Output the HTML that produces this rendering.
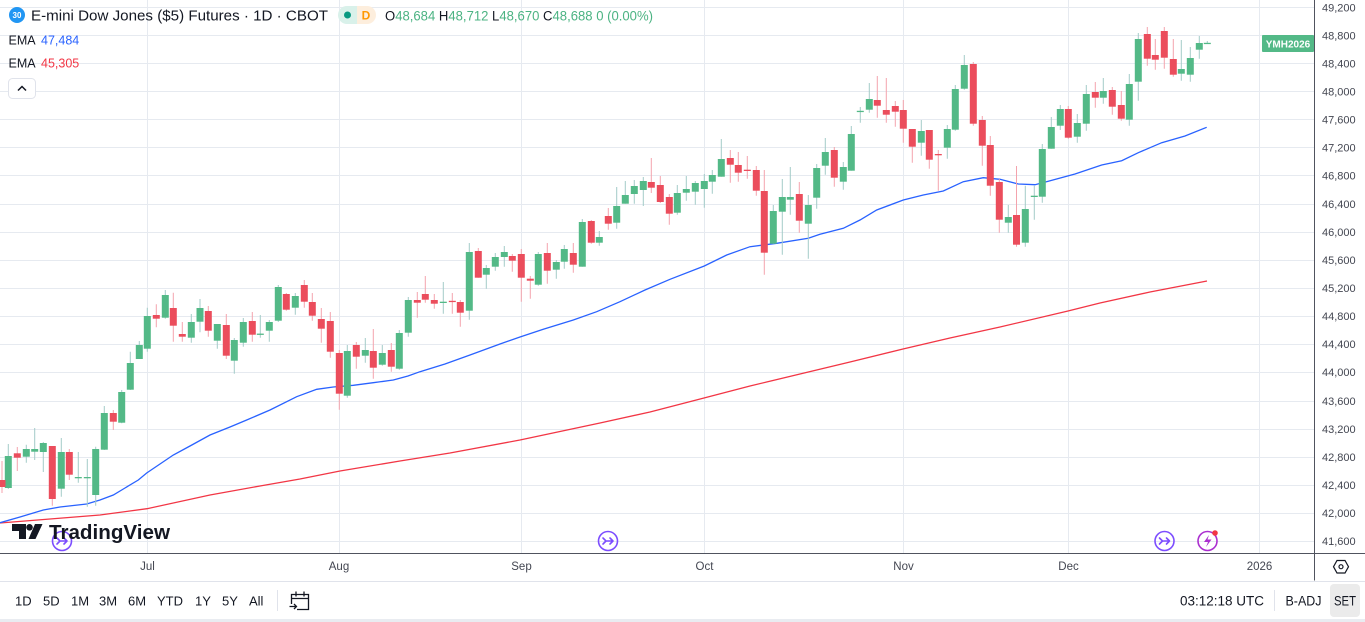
<!DOCTYPE html>
<html>
<head>
<meta charset="utf-8">
<style>
html,body{margin:0;padding:0;background:#fff;}
body{width:1365px;height:622px;overflow:hidden;}
svg{display:block;}
svg text{font-family:"Liberation Sans",sans-serif;}
</style>
</head>
<body>
<svg width="1365" height="622" viewBox="0 0 1365 622" xmlns="http://www.w3.org/2000/svg">
<rect x="0" y="0" width="1365" height="622" fill="#ffffff"/>

<!-- horizontal grid -->
<g stroke="#e6eaf0" stroke-width="1">
<path d="M0 7.5H1314M0 35.5H1314M0 63.5H1314M0 91.5H1314M0 119.5H1314M0 147.5H1314M0 175.5H1314M0 204.5H1314M0 232.5H1314M0 260.5H1314M0 288.5H1314M0 316.5H1314M0 344.5H1314M0 372.5H1314M0 401.5H1314M0 429.5H1314M0 457.5H1314M0 485.5H1314M0 513.5H1314M0 541.5H1314"/>
<path d="M147.5 0V553M339.5 0V553M521.5 0V553M704.5 0V553M903.5 0V553M1068.5 0V553M1259.5 0V553"/>
</g>

<!-- EMA lines -->
<polyline fill="none" stroke="#f23645" stroke-width="1.3" points="0,523 50,519 100,515 147,508.7 210,495 260,486 300,479 340,471 400,461 450,453 520,440 600,423 650,412 704,398 750,386 800,374 850,362 903,349 950,338 1000,327 1068,311 1100,303 1150,292 1207,281"/>
<polyline fill="none" stroke="#2962ff" stroke-width="1.3" points="0,522.7 20,517 43.3,510 60,507 86.7,504 100,500 113.3,495 125,488 138.3,480 146.7,473 160,464 173.3,455 190,446 210,435 230,427 246.7,420 270,410 296.7,396.7 316.7,389.3 333.3,387 353.3,385.3 373.3,382.7 393.3,380 408,376 420,371.7 445,364 470,355 500,344 520,337 543.3,329.3 573.3,320 596.7,311.7 620,301.7 645,290 670,279.3 704.3,266 726.7,255 750,246.7 776.7,243.3 808.3,238.3 820,234.3 843.3,228.3 860,220 876.7,210 903.3,200 923.3,195 943.3,191 963.3,181.7 983.3,177.7 1000,179.3 1018.3,184 1035,184.7 1048.3,181.3 1075,174 1101.7,165 1121.7,160.7 1138.3,152.7 1161.7,142.7 1185,136 1206.7,127.3"/>

<!-- wicks -->
<path fill="none" stroke="#a3cbc8" stroke-width="1" d="M8.3 444V489M26.3 444.7V462.7M34.7 428V460M43.3 442V472M61.3 438V496.7M78.3 452V482.7M87.3 459V506.7M95.7 446.7V505.7M104.3 406V450M121.7 390V423.3M130.3 351.7V390M139.3 341V359M147.3 307.7V351.7M165.3 290V318.7M191.3 314V342.7M200 299V332.3M217.3 324V348.7M234.3 338V373.7M243.3 318V346.7M260.3 315V337.7M269.3 320V341.7M278.3 285V322M295.3 293V314.7M347.3 345V397.7M365.3 338V362.7M382.3 345V365.7M399.3 330V369.7M408.3 297V336.7M443.3 282V313.7M469.3 243V319.7M486.3 265V288.7M495.3 253V270.7M504.3 246V266.7M538.3 252V285.7M556.3 260V278.7M564.3 245V268.7M582.3 219V266.7M599.3 231V245.7M616.7 187V228.7M625.3 181V203.7M634.3 180V203.7M643.3 177V206M677.3 185V214.7M686.3 176V200.7M695.3 181V204.7M704.3 174V207.7M712.3 170V193.7M721.3 139V176.7M773.3 205V243.7M782.3 179V254.7M790.3 167V214.7M808.3 195V258.7M816.7 164V208.7M825.3 138V174.7M843.3 162V189.7M851.3 126V170.7M860.3 107V122.7M869.3 83V112.7M921.3 120V155.7M947.3 125V158.7M955.3 85V130.7M964.3 55V89.7M1008.3 205V232.7M1025.3 185.7V246.7M1034.3 185.7V219.7M1042.3 144V202.7M1051.3 117V148.7M1060.3 105V130M1077.3 114V142.7M1086.3 85V130.7M1103.3 78V103.7M1129.3 74V125.7M1138.3 33V100.7M1181.3 40V80.7M1190.3 47V81.7M1199.3 36V58.7M1207.3 41V44"/>
<path fill="none" stroke="#f4a3ad" stroke-width="1" d="M2 461V493M17.3 447V471M52.3 446V505.7M69.3 449V480M113.3 410V430M156.3 304.3V327.3M173.3 292.7V341.7M182.3 322V341.7M208.3 306V336.7M226.3 314V359M252.3 312V341.7M286.3 293V310.7M304.3 280V307.7M312.3 293V320.7M321.3 308V342.7M330.3 312V357.7M339.3 350V409.7M356.3 342V368.7M373.3 329V378.7M391.3 343V371.7M417.3 292V317.7M425.3 276V302.7M434.3 294V308.7M452.3 293V313.7M460.3 300V326.7M478.3 248V277.7M512.3 254V271.7M521.3 249V301.7M530.3 276V298.7M547.3 243V283.7M573.3 243V272.7M591.3 220V243.7M608.3 208V229.7M651.3 158V193M660.3 176V203M669.3 194V224.7M730.3 150V182.7M738.3 152V181.7M747.3 156V178.7M756.3 166V195.7M764.3 170V274.7M799.3 182V232.7M834.3 147V186.7M877.3 76V117.7M886.3 78V122.7M895.3 101V126.7M903.3 100V142.7M912.3 129V162.7M929.3 130V168.7M938.3 150V190.7M973.3 62V125.7M982.3 116V165.7M990.3 136V195.7M999.3 179V232.7M1016.5 166V246.7M1068.3 106V138.7M1095.3 82V107.7M1112.3 87V114.7M1121.3 91V120.7M1147.3 27V65.7M1155.3 39V69.7M1164.3 27V68.7M1173.3 39V76.7"/>

<!-- green bodies -->
<g fill="#53b987">
<rect x="4.8" y="456" width="7" height="32"/>
<rect x="22.8" y="449" width="7" height="7.7"/>
<rect x="31.2" y="449" width="7" height="2.7"/>
<rect x="39.8" y="443" width="7" height="9"/>
<rect x="57.8" y="452" width="7" height="36.7"/>
<rect x="74.8" y="477" width="7" height="1.3"/>
<rect x="83.8" y="477" width="7" height="1.3"/>
<rect x="92.2" y="449" width="7" height="46"/>
<rect x="100.8" y="413" width="7" height="36.7"/>
<rect x="118.2" y="392" width="7" height="30.7"/>
<rect x="126.8" y="363" width="7" height="26.7"/>
<rect x="135.8" y="345" width="7" height="14"/>
<rect x="143.8" y="316" width="7" height="32.7"/>
<rect x="161.8" y="295" width="7" height="22.7"/>
<rect x="187.8" y="322" width="7" height="15.7"/>
<rect x="196.5" y="308" width="7" height="13.7"/>
<rect x="213.8" y="324" width="7" height="16.7"/>
<rect x="230.8" y="340" width="7" height="20.7"/>
<rect x="239.8" y="322" width="7" height="20.7"/>
<rect x="256.8" y="333.6" width="7" height="1.3"/>
<rect x="265.8" y="322" width="7" height="8.7"/>
<rect x="274.8" y="287" width="7" height="33.7"/>
<rect x="291.8" y="296" width="7" height="11.7"/>
<rect x="343.8" y="351" width="7" height="44.7"/>
<rect x="361.8" y="350" width="7" height="5.7"/>
<rect x="378.8" y="353" width="7" height="11.7"/>
<rect x="395.8" y="333" width="7" height="35.7"/>
<rect x="404.8" y="300" width="7" height="32.7"/>
<rect x="439.8" y="301.7" width="7" height="1.3"/>
<rect x="465.8" y="252" width="7" height="58.7"/>
<rect x="482.8" y="268" width="7" height="6.7"/>
<rect x="491.8" y="257" width="7" height="9.7"/>
<rect x="500.8" y="252" width="7" height="5"/>
<rect x="534.8" y="254" width="7" height="30.7"/>
<rect x="552.8" y="262" width="7" height="7.7"/>
<rect x="560.8" y="249" width="7" height="12.7"/>
<rect x="578.8" y="222" width="7" height="44.7"/>
<rect x="595.8" y="237" width="7" height="5.7"/>
<rect x="613.2" y="206" width="7" height="16.7"/>
<rect x="621.8" y="195" width="7" height="8.7"/>
<rect x="630.8" y="186" width="7" height="8"/>
<rect x="639.8" y="181" width="7" height="9"/>
<rect x="673.8" y="193" width="7" height="19.7"/>
<rect x="682.8" y="189" width="7" height="3.7"/>
<rect x="691.8" y="183" width="7" height="8.7"/>
<rect x="700.8" y="181" width="7" height="8"/>
<rect x="708.8" y="175" width="7" height="6.7"/>
<rect x="717.8" y="159" width="7" height="17.7"/>
<rect x="769.8" y="211" width="7" height="32.7"/>
<rect x="778.8" y="197" width="7" height="14.7"/>
<rect x="786.8" y="197" width="7" height="2.7"/>
<rect x="804.8" y="205" width="7" height="18.7"/>
<rect x="813.2" y="168" width="7" height="29.7"/>
<rect x="821.8" y="152" width="7" height="13.7"/>
<rect x="839.8" y="167" width="7" height="14.7"/>
<rect x="847.8" y="134" width="7" height="36.7"/>
<rect x="856.8" y="110.8" width="7" height="1.3"/>
<rect x="865.8" y="99" width="7" height="10.7"/>
<rect x="917.8" y="131" width="7" height="11.7"/>
<rect x="943.8" y="129" width="7" height="18.7"/>
<rect x="951.8" y="89" width="7" height="40.7"/>
<rect x="960.8" y="65" width="7" height="23.7"/>
<rect x="1004.8" y="217" width="7" height="5.7"/>
<rect x="1021.8" y="209" width="7" height="33.7"/>
<rect x="1030.8" y="195.7" width="7" height="1.3"/>
<rect x="1038.8" y="149" width="7" height="47.7"/>
<rect x="1047.8" y="127" width="7" height="21.7"/>
<rect x="1056.8" y="109" width="7" height="16.7"/>
<rect x="1073.8" y="123" width="7" height="13.7"/>
<rect x="1082.8" y="94" width="7" height="29.7"/>
<rect x="1099.8" y="91" width="7" height="6.7"/>
<rect x="1125.8" y="84" width="7" height="35.7"/>
<rect x="1134.8" y="39" width="7" height="42.7"/>
<rect x="1177.8" y="69" width="7" height="4.7"/>
<rect x="1186.8" y="58" width="7" height="16.7"/>
<rect x="1195.8" y="43" width="7" height="6.7"/>
<rect x="1203.8" y="42.8" width="7" height="1.3"/>
</g>

<!-- red bodies -->
<g fill="#eb4d5c">
<rect x="-1.5" y="480" width="7" height="7"/>
<rect x="13.8" y="453.3" width="7" height="4.4"/>
<rect x="48.8" y="446" width="7" height="53"/>
<rect x="65.8" y="452" width="7" height="22.7"/>
<rect x="109.8" y="413" width="7" height="8.7"/>
<rect x="152.8" y="315" width="7" height="3.7"/>
<rect x="169.8" y="308" width="7" height="17.7"/>
<rect x="178.8" y="334" width="7" height="2.7"/>
<rect x="204.8" y="311" width="7" height="19.7"/>
<rect x="222.8" y="325" width="7" height="30.7"/>
<rect x="248.8" y="321" width="7" height="13.7"/>
<rect x="282.8" y="294" width="7" height="15.7"/>
<rect x="300.8" y="285" width="7" height="16.7"/>
<rect x="308.8" y="302" width="7" height="13.7"/>
<rect x="317.8" y="319" width="7" height="9.7"/>
<rect x="326.8" y="321" width="7" height="30.7"/>
<rect x="335.8" y="353" width="7" height="40.7"/>
<rect x="352.8" y="345" width="7" height="11.7"/>
<rect x="369.8" y="351" width="7" height="16.7"/>
<rect x="387.8" y="350" width="7" height="16.7"/>
<rect x="413.8" y="300" width="7" height="2.7"/>
<rect x="421.8" y="294" width="7" height="5.7"/>
<rect x="430.8" y="300" width="7" height="3.7"/>
<rect x="448.8" y="300.8" width="7" height="1.3"/>
<rect x="456.8" y="302" width="7" height="10.7"/>
<rect x="474.8" y="251" width="7" height="26.7"/>
<rect x="508.8" y="256" width="7" height="4.7"/>
<rect x="517.8" y="254" width="7" height="23.7"/>
<rect x="526.8" y="278.7" width="7" height="2"/>
<rect x="543.8" y="253" width="7" height="17.7"/>
<rect x="569.8" y="253" width="7" height="11.7"/>
<rect x="587.8" y="221" width="7" height="21.7"/>
<rect x="604.8" y="216" width="7" height="7.7"/>
<rect x="647.8" y="182" width="7" height="5.7"/>
<rect x="656.8" y="185" width="7" height="17"/>
<rect x="665.8" y="197" width="7" height="16.7"/>
<rect x="726.8" y="158" width="7" height="6.7"/>
<rect x="734.8" y="165" width="7" height="7.7"/>
<rect x="743.8" y="169.7" width="7" height="1.3"/>
<rect x="752.8" y="170" width="7" height="20.7"/>
<rect x="760.8" y="191" width="7" height="61.7"/>
<rect x="795.8" y="194" width="7" height="26.7"/>
<rect x="830.8" y="150" width="7" height="27.7"/>
<rect x="873.8" y="100" width="7" height="5.7"/>
<rect x="882.8" y="110" width="7" height="4.7"/>
<rect x="891.8" y="106" width="7" height="5.7"/>
<rect x="899.8" y="110" width="7" height="18.7"/>
<rect x="908.8" y="129" width="7" height="17.7"/>
<rect x="925.8" y="130" width="7" height="29.7"/>
<rect x="934.8" y="154" width="7" height="1.3"/>
<rect x="969.8" y="64" width="7" height="59.7"/>
<rect x="978.8" y="120" width="7" height="25.7"/>
<rect x="986.8" y="145" width="7" height="40.7"/>
<rect x="995.8" y="182" width="7" height="37.7"/>
<rect x="1013" y="215" width="7" height="29.7"/>
<rect x="1064.8" y="109" width="7" height="28.7"/>
<rect x="1091.8" y="92" width="7" height="5.7"/>
<rect x="1108.8" y="90" width="7" height="16.7"/>
<rect x="1117.8" y="105" width="7" height="13.7"/>
<rect x="1143.8" y="34" width="7" height="24.7"/>
<rect x="1151.8" y="55" width="7" height="4.7"/>
<rect x="1160.8" y="31" width="7" height="26.7"/>
<rect x="1169.8" y="59" width="7" height="15.7"/>
</g>

<!-- event icons -->
<g fill="none" stroke-width="1.6" stroke-linecap="round" stroke-linejoin="round">
<g stroke="#7c4dff">
<circle cx="62" cy="541" r="9.5"/>
<path d="M57 538L60 541L57 544M61 541H67M64 538L67 541L64 544"/>
<circle cx="608" cy="541" r="9.5"/>
<path d="M603 538L606 541L603 544M607 541H613M610 538L613 541L610 544"/>
<circle cx="1164.5" cy="541" r="9.5"/>
<path d="M1159.5 538L1162.5 541L1159.5 544M1163.5 541H1169.5M1166.5 538L1169.5 541L1166.5 544"/>
</g>
<circle cx="1207.5" cy="541" r="9.5" stroke="#ab2fd0"/>
</g>
<path d="M1209 535L1204 542H1208L1206 547L1211.5 539.5H1207.5Z" fill="#ab2fd0"/>
<circle cx="1215" cy="533" r="2.8" fill="#f23645"/>

<!-- watermark -->
<g fill="#131722">
<path d="M12 524H26V539H19V531H12Z"/>
<circle cx="29.5" cy="527.3" r="3.3"/>
<path d="M35 524H42.5L35.5 539H28.5Z"/>
<text x="49" y="539" font-size="20.5" font-weight="bold" textLength="121" lengthAdjust="spacingAndGlyphs">TradingView</text>
</g>

<!-- axes -->
<rect x="1314.5" y="0" width="50.5" height="580" fill="#ffffff"/>
<rect x="0" y="553.5" width="1365" height="27" fill="#ffffff"/>
<path d="M1314.5 0V580.5M0 553.5H1365" stroke="#50535e" stroke-width="1" fill="none"/>
<path d="M0 581.5H1365" stroke="#e0e3eb" stroke-width="1"/>
<rect x="0" y="619" width="1365" height="3" fill="#e9ecf1"/>

<!-- price labels -->
<g font-size="11" fill="#434651">
<text x="1322" y="11.5">49,200</text>
<text x="1322" y="39.5">48,800</text>
<text x="1322" y="67.5">48,400</text>
<text x="1322" y="95.5">48,000</text>
<text x="1322" y="123.5">47,600</text>
<text x="1322" y="151.5">47,200</text>
<text x="1322" y="179.5">46,800</text>
<text x="1322" y="208">46,400</text>
<text x="1322" y="236">46,000</text>
<text x="1322" y="264">45,600</text>
<text x="1322" y="292">45,200</text>
<text x="1322" y="320">44,800</text>
<text x="1322" y="348">44,400</text>
<text x="1322" y="376">44,000</text>
<text x="1322" y="405">43,600</text>
<text x="1322" y="433">43,200</text>
<text x="1322" y="461">42,800</text>
<text x="1322" y="489">42,400</text>
<text x="1322" y="517">42,000</text>
<text x="1322" y="545">41,600</text>
</g>

<!-- last price label -->
<rect x="1262" y="35" width="52" height="17" rx="1" fill="#53b987"/>
<text x="1288" y="47.5" font-size="10" font-weight="bold" fill="#ffffff" text-anchor="middle">YMH2026</text>

<!-- time labels -->
<g font-size="11.5" fill="#434651" text-anchor="middle">
<text x="147.5" y="570">Jul</text>
<text x="339" y="570">Aug</text>
<text x="521.5" y="570">Sep</text>
<text x="704.5" y="570">Oct</text>
<text x="903.5" y="570">Nov</text>
<text x="1068.5" y="570">Dec</text>
<text x="1259.5" y="570">2026</text>
</g>
<!-- settings icon -->
<path d="M1337 560.5H1345L1348.5 566.7L1345 573H1337L1333.5 566.7Z" fill="none" stroke="#131722" stroke-width="1.2"/>
<circle cx="1341" cy="566.7" r="2" fill="none" stroke="#131722" stroke-width="1.2"/>

<!-- legend header -->
<circle cx="17" cy="15" r="8" fill="#2196f3"/>
<text x="17" y="18" font-size="8" font-weight="bold" fill="#ffffff" text-anchor="middle">30</text>
<text x="31" y="20.5" font-size="15" fill="#131722" textLength="297" lengthAdjust="spacingAndGlyphs">E-mini Dow Jones ($5) Futures · 1D · CBOT</text>
<path d="M347 6H357V24H347A9 9 0 0 1 347 6Z" fill="#d9f1ea"/>
<path d="M357 6H367A9 9 0 0 1 367 24H357Z" fill="#fdeedd"/>
<circle cx="347.5" cy="15" r="3.5" fill="#089981"/>
<text x="366" y="19.5" font-size="12" font-weight="bold" fill="#ff9800" text-anchor="middle">D</text>
<text x="385" y="20.5" font-size="13.5" fill="#131722" textLength="268" lengthAdjust="spacingAndGlyphs">O<tspan fill="#4cb383">48,684</tspan> H<tspan fill="#4cb383">48,712</tspan> L<tspan fill="#4cb383">48,670</tspan> C<tspan fill="#4cb383">48,688 0 (0.00%)</tspan></text>

<text x="8.5" y="44.3" font-size="12.5" fill="#131722">EMA</text>
<text x="41" y="44.3" font-size="12.5" fill="#2962ff">47,484</text>
<text x="8.5" y="67.3" font-size="12.5" fill="#131722">EMA</text>
<text x="41" y="67.3" font-size="12.5" fill="#f23645">45,305</text>

<rect x="8.5" y="78.5" width="27" height="20" rx="4" fill="#ffffff" stroke="#e0e3eb"/>
<path d="M18 90.5L22 86.5L26 90.5" fill="none" stroke="#131722" stroke-width="1.5"/>

<!-- bottom toolbar -->
<g font-size="13" fill="#131722">
<text x="15" y="605.5">1D</text>
<text x="43" y="605.5">5D</text>
<text x="71" y="605.5">1M</text>
<text x="99" y="605.5">3M</text>
<text x="128" y="605.5">6M</text>
<text x="157" y="605.5">YTD</text>
<text x="195" y="605.5">1Y</text>
<text x="222" y="605.5">5Y</text>
<text x="249" y="605.5">All</text>
</g>
<path d="M277.5 590V611" stroke="#e0e3eb"/>
<g fill="none" stroke="#131722" stroke-width="1.3">
<path d="M291.5 604V594.5H308.5V609.5H297M291.5 598.5H308.5M296 591.5V596.5M304 591.5V596.5"/>
<path d="M289.5 606.5H296.5M294 604L296.5 606.5L294 609"/>
</g>
<text x="1180" y="605.5" font-size="13.5" fill="#131722" textLength="84" lengthAdjust="spacingAndGlyphs">03:12:18 UTC</text>
<path d="M1274.5 590V611" stroke="#e0e3eb"/>
<text x="1285.5" y="605.5" font-size="13.5" fill="#131722" textLength="36" lengthAdjust="spacingAndGlyphs">B-ADJ</text>
<rect x="1330" y="584" width="30" height="33" rx="4" fill="#ebebeb"/>
<text x="1334" y="605.5" font-size="13.5" fill="#131722" textLength="22" lengthAdjust="spacingAndGlyphs">SET</text>
</svg>
</body>
</html>
